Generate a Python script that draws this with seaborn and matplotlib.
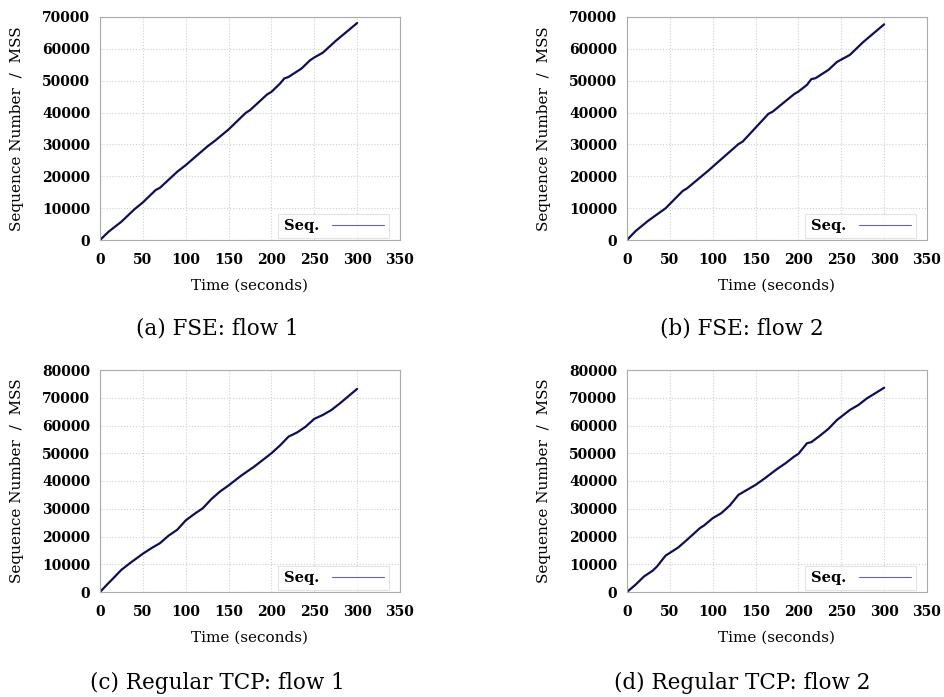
import matplotlib
matplotlib.use("Agg")
import matplotlib.pyplot as plt
import seaborn as sns
import pandas as pd

# ---------- data ----------
t_fse1 = [0, 10, 25, 40, 50, 65, 70, 90, 100, 125, 135, 150, 170, 175, 195, 200,
          210, 215, 220, 235, 245, 250, 260, 275, 300]
seq_fse1 = [0, 2600, 5750, 9600, 11800, 15700, 16400, 21400, 23500, 29300, 31350,
            34700, 39900, 40750, 45700, 46500, 49100, 50700, 51200, 53800, 56400,
            57300, 58800, 62500, 68100]

t_fse2 = [0, 10, 25, 45, 65, 70, 95, 100, 130, 135, 165, 170, 195, 200, 210, 215,
          220, 235, 245, 260, 275, 300]
seq_fse2 = [0, 2800, 6100, 9950, 15400, 16200, 21800, 23000, 30100, 30900, 39600,
            40300, 45800, 46600, 48700, 50500, 50800, 53400, 55900, 58100, 62000, 67700]

t_tcp1 = [0, 10, 15, 25, 35, 50, 60, 70, 80, 90, 100, 110, 120, 130, 140, 150, 165,
          180, 190, 200, 210, 220, 230, 240, 250, 260, 270, 280, 300]
seq_tcp1 = [0, 3240, 4800, 8000, 10400, 13800, 15800, 17600, 20300, 22400, 25800,
            28100, 30200, 33500, 36200, 38400, 42000, 45200, 47600, 50000, 52800,
            56000, 57500, 59600, 62400, 63800, 65600, 68000, 73200]

t_tcp2 = [0, 10, 20, 30, 35, 45, 60, 70, 85, 90, 100, 110, 120, 130, 140, 150, 160,
          175, 185, 195, 200, 210, 215, 225, 235, 245, 260, 270, 280, 300]
seq_tcp2 = [0, 2640, 5640, 7700, 9200, 13100, 16100, 18800, 23000, 24000, 26600,
            28400, 31200, 35000, 36800, 38600, 40800, 44300, 46400, 48800, 49800,
            53600, 54000, 56300, 58800, 62000, 65600, 67400, 69800, 73600]

captions = ["(a) FSE: flow 1", "(b) FSE: flow 2",
            "(c) Regular TCP: flow 1", "(d) Regular TCP: flow 2"]
ymax = [70000, 70000, 80000, 80000]

sns.set_style("whitegrid", {"grid.linestyle": ":", "grid.color": "#cfcfcf",
                            "axes.edgecolor": "#aaaaaa", "text.color": "black",
                            "xtick.color": "black", "ytick.color": "black",
                            "axes.labelcolor": "black"})
plt.rcParams['font.family'] = ['DejaVu Serif']

fig = plt.figure(figsize=(9.45, 6.97), dpi=100)
W, H = 945.0, 697.0
# axes boxes in pixels: left, top, right, bottom
boxes = [(100, 17, 400, 240), (627, 17, 927, 240),
         (100, 370, 400, 592), (627, 370, 927, 592)]
series = [(t_fse1, seq_fse1), (t_fse2, seq_fse2), (t_tcp1, seq_tcp1), (t_tcp2, seq_tcp2)]
cap_pos = [(217, 328), (742, 328), (217, 683), (742, 683)]

for i in range(4):
    l, t, r, b = boxes[i]
    ax = fig.add_axes([l / W, 1 - b / H, (r - l) / W, (b - t) / H])
    df = pd.DataFrame({"time": series[i][0], "seq": series[i][1]})
    sns.lineplot(data=df, x="time", y="seq", ax=ax, color="#0f0f55",
                 linewidth=1.6, label="Seq.")
    ax.set_xlim(0, 350)
    ax.set_ylim(0, ymax[i])
    ax.set_xticks(range(0, 351, 50))
    ax.set_yticks(range(0, ymax[i] + 1, 10000))
    ax.tick_params(axis="x", labelsize=10, pad=9, length=0)
    ax.tick_params(axis="y", labelsize=10, pad=7, length=0)
    for lab in ax.get_xticklabels() + ax.get_yticklabels():
        lab.set_fontweight("bold")
    ax.set_xlabel("Time (seconds)", fontsize=11, labelpad=9)
    ax.set_ylabel("Sequence Number  /  MSS", fontsize=11, labelpad=13)
    leg = ax.legend(loc="lower right", bbox_to_anchor=(0.965, 0.008), fontsize=10.5,
                    frameon=True, fancybox=False, handlelength=3.6,
                    borderaxespad=0.0, borderpad=0.35, markerfirst=False,
                    handletextpad=0.9)
    leg.get_frame().set_edgecolor("#dddddd")
    leg.get_frame().set_linewidth(0.8)
    for line in leg.get_lines():
        line.set_linewidth(0.8)
        line.set_color("#6666aa")
    for txt in leg.get_texts():
        txt.set_fontweight("bold")
    for sp in ax.spines.values():
        sp.set_linewidth(0.8)
    fig.text(cap_pos[i][0] / W, 1 - cap_pos[i][1] / H, captions[i],
             ha="center", va="center", fontsize=15.5, family="DejaVu Serif")

fig.savefig("out.png", dpi=100)
